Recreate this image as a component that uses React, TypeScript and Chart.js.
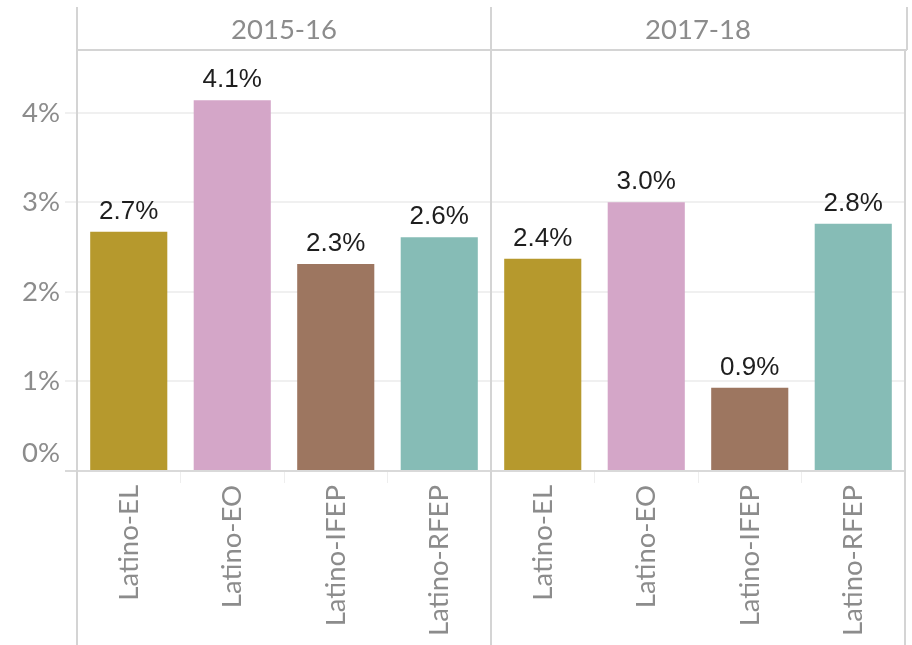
import React, { useEffect, useRef } from "react";
import { Chart, registerables } from "chart.js";

Chart.register(...registerables);

const periods = ["2015-16", "2017-18"];
const categories = ["Latino-EL", "Latino-EO", "Latino-IFEP", "Latino-RFEP"];
const values2015 = [2.67, 4.14, 2.31, 2.61];
const values2017 = [2.37, 3.0, 0.93, 2.76];
const categoryColors = ["#B6992D", "#D4A6C8", "#9D7660", "#86BCB6"];
const yTickValues = [0, 1, 2, 3, 4];
const yMax = 4.7;

const AXIS_FONT = "Lato";
const AXIS_SIZE = 27.5;
const GREY = "#8c8c8c";
const LINE = "#d4d4d4";

export default function App() {
  const ref = useRef<HTMLCanvasElement | null>(null);

  useEffect(() => {
    if (!ref.current) return;
    const labels = [...categories, ...categories];
    const data = [...values2015, ...values2017];
    const colors = [...categoryColors, ...categoryColors];

    const framePlugin = {
      id: "frame",
      afterDraw(chart: any) {
        const ctx = chart.ctx;
        const area = chart.chartArea;
        const x = chart.scales.x;
        const y = chart.scales.y;
        const n = categories.length;
        const left = area.left;
        const mid = (x.getPixelForValue(n - 1) + x.getPixelForValue(n)) / 2;
        const right = area.right;
        ctx.save();
        ctx.strokeStyle = LINE;
        ctx.lineWidth = 2;
        ctx.beginPath();
        ctx.moveTo(left, 7);
        ctx.lineTo(left, chart.height);
        ctx.moveTo(mid, 7);
        ctx.lineTo(mid, chart.height);
        ctx.moveTo(right, area.top);
        ctx.lineTo(right, chart.height);
        ctx.moveTo(right + 2, 7);
        ctx.lineTo(right + 2, area.top);
        ctx.moveTo(left, area.top);
        ctx.lineTo(right + 2, area.top);
        ctx.stroke();

        // panel headers
        ctx.fillStyle = GREY;
        ctx.font = `${AXIS_SIZE}px ${AXIS_FONT}`;
        ctx.textAlign = "center";
        ctx.textBaseline = "middle";
        ctx.fillText(periods[0], (left + mid) / 2, 30);
        ctx.fillText(periods[1], (mid + right) / 2, 30);

        // 0% label (Tableau lifts the bottom label above the baseline)
        ctx.textAlign = "right";
        ctx.fillText("0%", left - 17, y.getPixelForValue(0) - 18);

        // data labels
        const meta = chart.getDatasetMeta(0);
        ctx.fillStyle = "#1e1e1e";
        ctx.font = `26px "Liberation Sans"`;
        ctx.textAlign = "center";
        ctx.textBaseline = "alphabetic";
        meta.data.forEach((el: any, i: number) => {
          const v = chart.data.datasets[0].data[i] as number;
          ctx.fillText(v.toFixed(1) + "%", el.x, el.y - 13);
        });
        ctx.restore();
      },
    };

    const chart = new Chart(ref.current, {
      type: "bar",
      data: {
        labels,
        datasets: [
          {
            data,
            backgroundColor: colors,
            borderWidth: 0,
            categoryPercentage: 1,
            barPercentage: 0.745,
          },
        ],
      },
      options: {
        animation: false,
        responsive: false,
        maintainAspectRatio: false,
        layout: { padding: { top: 50, right: 7, left: 0, bottom: 0 } },
        plugins: {
          legend: { display: false },
          tooltip: { enabled: false },
        },
        scales: {
          x: {
            offset: true,
            border: { display: false },
            grid: {
              drawOnChartArea: false,
              drawTicks: true,
              tickLength: 12,
              color: "#eeeeee",
              lineWidth: 1,
              offset: true,
            },
            ticks: {
              autoSkip: false,
              maxRotation: 90,
              minRotation: 90,
              padding: 2,
              color: GREY,
              font: { family: AXIS_FONT, size: AXIS_SIZE },
            },
            afterFit(scale: any) {
              scale.height = 174;
            },
          },
          y: {
            min: 0,
            max: yMax,
            border: { display: false },
            afterBuildTicks(scale: any) {
              scale.ticks = yTickValues.map((v) => ({ value: v }));
            },
            grid: {
              drawTicks: true,
              tickLength: 12,
              lineWidth: 2,
              color: (c: any) => (c.tick && c.tick.value === 0 ? "#d9d9d9" : "#f0f0f0"),
            },
            ticks: {
              padding: 5,
              color: GREY,
              font: { family: AXIS_FONT, size: AXIS_SIZE },
              callback: (v: any) => (Number(v) === 0 ? "" : `${v}%`),
            },
            afterFit(scale: any) {
              scale.width = 77;
            },
          },
        },
      },
      plugins: [framePlugin],
    });
    return () => chart.destroy();
  }, []);

  return (
    <div style={{ position: "absolute", left: 0, top: 0, width: 912, height: 645, background: "#fff" }}>
      <canvas ref={ref} width={912} height={645} style={{ width: 912, height: 645, display: "block" }} />
    </div>
  );
}
